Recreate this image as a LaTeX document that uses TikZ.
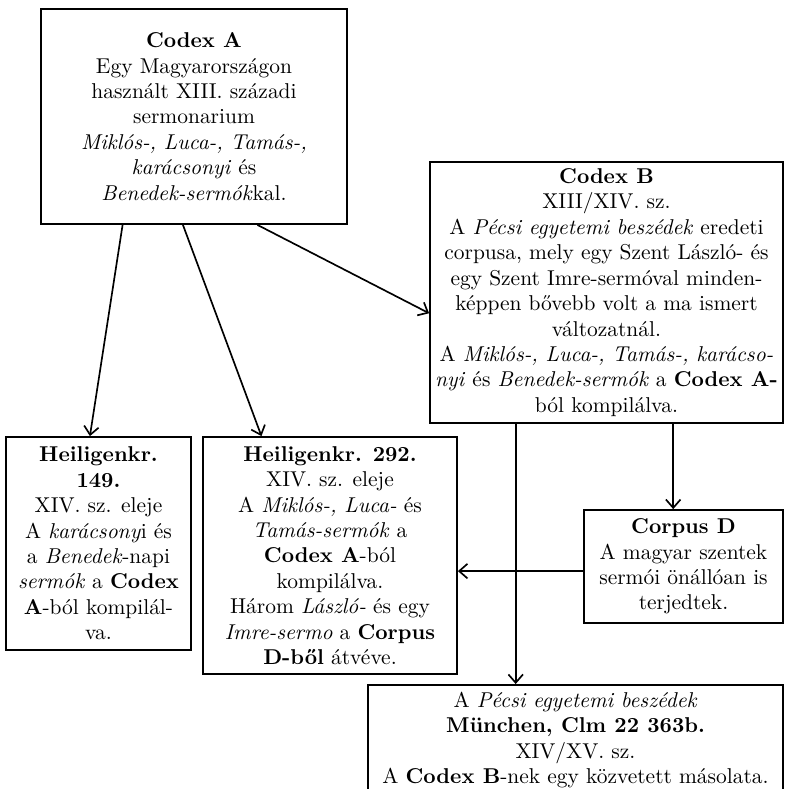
\documentclass[tikz,border=0pt]{standalone}
\usepackage{fontspec}
\usetikzlibrary{calc,arrows.meta,shadows}
\tikzset{
  box/.style={draw, line width=0.85pt, fill=white, align=center, inner sep=0pt,
    font=\fontsize{10.3}{12.2}\selectfont,
    drop shadow={shadow xshift=0.7pt, shadow yshift=-0.7pt, opacity=1, fill=black}},
  arr/.style={line width=0.8pt, -{Straight Barb[length=4pt,width=7pt,line width=0.8pt]}}
}
\begin{document}
\begin{tikzpicture}[x=0.48pt,y=-0.48pt]
\useasboundingbox (0,0) rectangle (784,789);
\clip (0,0) rectangle (784,789);
\fill[white] (0,0) rectangle (784,789);

\node[box, minimum width=146.88pt, minimum height=103.2pt] (A) at (194,116.5)
 {\textbf{Codex A}\\
  Egy Magyarországon\\
  használt XIII. századi\\
  sermonarium\\
  \textit{Miklós-, Luca-, Tamás-,}\\
  \textit{karácsonyi} és\\
  \textit{Benedek-sermók}kal.};

\node[box, minimum width=169.44pt, minimum height=125.28pt] (B) at (606.5,292.5)
 {\textbf{Codex B}\\
  XIII/XIV. sz.\\
  A \textit{Pécsi egyetemi beszédek} eredeti\\
  corpusa, mely egy Szent László- és\\
  egy Szent Imre-sermóval minden-\\
  képpen bővebb volt a ma ismert\\
  változatnál.\\
  A \textit{Miklós-, Luca-, Tamás-, karácso-}\\
  \textit{nyi} és \textit{Benedek-sermók} a \textbf{Codex A-}\\
  ból kompilálva.};

\node[box, minimum width=88.8pt, minimum height=102.24pt] (H1) at (98.5,543.5)
 {\textbf{Heiligenkr.}\\
  \textbf{149.}\\
  XIV. sz. eleje\\
  A \textit{karácsony}i és\\
  a \textit{Benedek}-napi\\
  \textit{sermók} a \textbf{Codex}\\
  \textbf{A}-ból kompilál-\\
  va.};

\node[box, minimum width=121.92pt, minimum height=113.76pt] (H2) at (330,555.5)
 {\textbf{Heiligenkr. 292.}\\
  XIV. sz. eleje\\
  A \textit{Miklós-, Luca-} és\\
  \textit{Tamás-sermók} a\\
  \textbf{Codex A}-ból\\
  kompilálva.\\
  Három \textit{László-} és egy\\
  \textit{Imre-sermo} a \textbf{Corpus}\\
  \textbf{D-ből} átvéve.};

\node[box, minimum width=95.52pt, minimum height=54.24pt] (D) at (683.5,566.5)
 {\textbf{Corpus D}\\
  A magyar szentek\\
  sermói önállóan is\\
  terjedtek.};

\node[box, minimum width=199.2pt, inner ysep=3.5pt, anchor=north] (M) at (575.5,684)
 {A \textit{Pécsi egyetemi beszédek}\\
  \textbf{München, Clm 22 363b.}\\
  XIV/XV. sz.\\
  A \textbf{Codex B}-nek egy közvetett másolata.\\
  \strut};

\coordinate (a1) at ($(A.south west)!0.268!(A.south east)$);
\coordinate (a2) at ($(A.south west)!0.464!(A.south east)$);
\coordinate (a3) at ($(A.south west)!0.706!(A.south east)$);
\coordinate (h1) at ($(H1.north west)!0.454!(H1.north east)$);
\coordinate (h2) at ($(H2.north west)!0.232!(H2.north east)$);
\coordinate (bw) at ($(B.north west)!0.579!(B.south west)$);
\coordinate (b1) at ($(B.south west)!0.688!(B.south east)$);
\coordinate (b2) at ($(B.south west)!0.244!(B.south east)$);
\coordinate (dw) at ($(D.north west)!0.54!(D.south west)$);

\draw[arr] (a1) -- (h1);
\draw[arr] (a2) -- (h2);
\draw[arr] (a3) -- (bw);
\draw[arr] (b1) -- (b1 |- D.north);
\draw[arr] (b2) -- (b2 |- M.north);
\draw[arr] (dw) -- (dw -| H2.east);
\end{tikzpicture}
\end{document}
